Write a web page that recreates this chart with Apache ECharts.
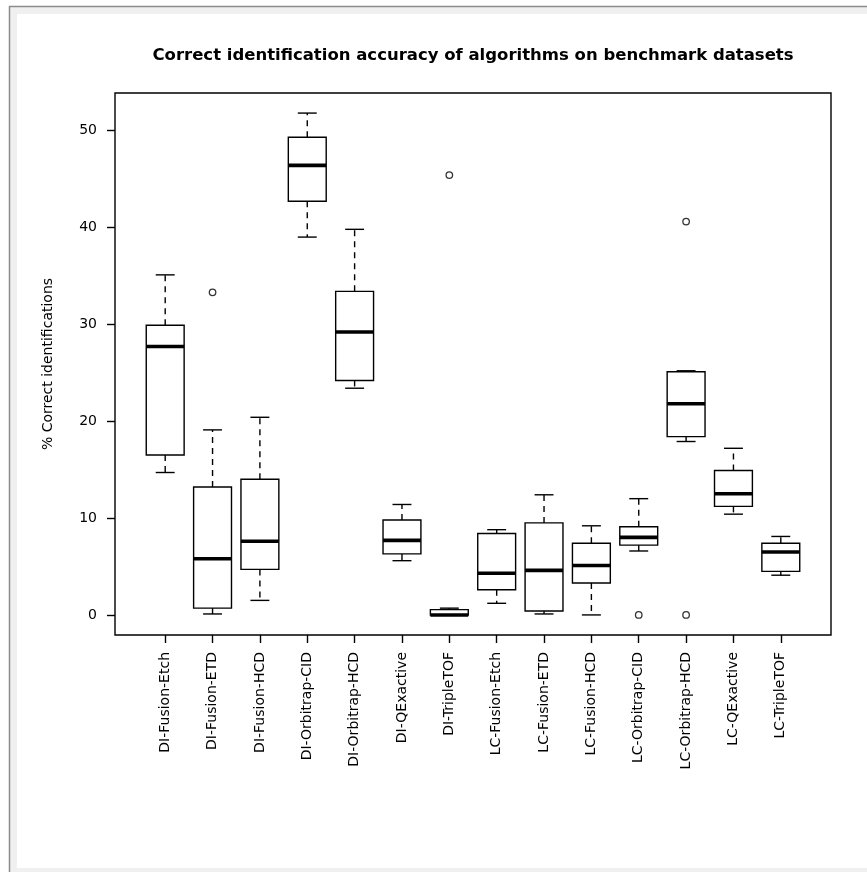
<!DOCTYPE html>
<html>
<head>
<meta charset="utf-8">
<script src="https://cdn.jsdelivr.net/npm/echarts@6/dist/echarts.min.js"></script>
<style>
  html, body { margin: 0; padding: 0; background: #fff; }
  #chart { width: 867px; height: 872px; }
</style>
</head>
<body>
<div id="chart"></div>
<script>
// Benchmark groups (one box per group)
const categories = [
  'DI-Fusion-Etch', 'DI-Fusion-ETD', 'DI-Fusion-HCD', 'DI-Orbitrap-CID',
  'DI-Orbitrap-HCD', 'DI-QExactive', 'DI-TripleTOF', 'LC-Fusion-Etch',
  'LC-Fusion-ETD', 'LC-Fusion-HCD', 'LC-Orbitrap-CID', 'LC-Orbitrap-HCD',
  'LC-QExactive', 'LC-TripleTOF'
];

// Five-number summaries (% correct identifications)
const whiskerLow  = [14.7, 0.1, 1.5, 39.0, 23.4, 5.6, 0.0, 1.2, 0.1, 0.0, 6.6, 17.9, 10.4, 4.1];
const quartile1   = [16.5, 0.7, 4.7, 42.7, 24.2, 6.3, 0.0, 2.6, 0.4, 3.3, 7.2, 18.4, 11.2, 4.5];
const medians     = [27.7, 5.8, 7.6, 46.4, 29.2, 7.7, 0.0, 4.3, 4.6, 5.1, 8.0, 21.8, 12.5, 6.5];
const quartile3   = [29.9, 13.2, 14.0, 49.3, 33.4, 9.8, 0.55, 8.4, 9.5, 7.4, 9.1, 25.1, 14.9, 7.4];
const whiskerHigh = [35.1, 19.1, 20.4, 51.8, 39.8, 11.4, 0.7, 8.8, 12.4, 9.2, 12.0, 25.2, 17.2, 8.1];

// Outlying points: group number (1-based) and value
const outlierGroup = [2, 7, 11, 12, 12];
const outlierValue = [33.3, 45.4, 0.0, 40.6, 0.0];

// Labelled ticks on the value axis
const yTicks = [0, 10, 20, 30, 40, 50];

const FONT = '"DejaVu Sans", "Liberation Sans", Arial, sans-serif';
const INK = '#000';

// Axis ranges padded by 4% on each side of the data
const allVals = whiskerLow.concat(whiskerHigh, outlierValue);
const dMin = Math.min.apply(null, allVals);
const dMax = Math.max.apply(null, allVals);
const yPad = (dMax - dMin) * 0.04;
const xLo = 0.5, xHi = categories.length + 0.5;
const xPad = (xHi - xLo) * 0.04;
const groupPos = categories.map((c, i) => i + 1);

const boxData = categories.map((c, i) => [
  i + 1, whiskerLow[i], quartile1[i], medians[i], quartile3[i], whiskerHigh[i]
]);
const outlierData = outlierGroup.map((g, i) => [g, outlierValue[i]]);

function renderBox(params, api) {
  const x = api.value(0);
  const half = api.size([0.8, 0])[0] / 2;
  const cap = half / 2;
  const lo = api.coord([x, api.value(1)]);
  const q1 = api.coord([x, api.value(2)]);
  const md = api.coord([x, api.value(3)]);
  const q3 = api.coord([x, api.value(4)]);
  const hi = api.coord([x, api.value(5)]);
  const cx = lo[0];
  const thin = { stroke: INK, lineWidth: 1.4 };
  const dashed = { stroke: INK, lineWidth: 1.4, lineDash: [6, 5] };
  return {
    type: 'group',
    children: [
      { type: 'line', shape: { x1: cx, y1: q3[1], x2: cx, y2: hi[1] }, style: dashed },
      { type: 'line', shape: { x1: cx, y1: q1[1], x2: cx, y2: lo[1] }, style: dashed },
      { type: 'line', shape: { x1: cx - cap, y1: hi[1], x2: cx + cap, y2: hi[1] }, style: thin },
      { type: 'line', shape: { x1: cx - cap, y1: lo[1], x2: cx + cap, y2: lo[1] }, style: thin },
      { type: 'rect', shape: { x: cx - half, y: q3[1], width: half * 2, height: q1[1] - q3[1] },
        style: { fill: 'none', stroke: INK, lineWidth: 1.4 } },
      { type: 'line', shape: { x1: cx - half, y1: md[1], x2: cx + half, y2: md[1] },
        style: { stroke: INK, lineWidth: 3.6 } }
    ]
  };
}

const chart = echarts.init(document.getElementById('chart'), null, { renderer: 'canvas' });

chart.setOption({
  animation: false,
  backgroundColor: '#fff',
  graphic: [
    { type: 'rect', z: -10, silent: true, shape: { x: 9, y: 6, width: 858, height: 866 },
      style: { fill: '#f0f0f0' } },
    { type: 'rect', z: -9, silent: true, shape: { x: 17, y: 14, width: 850, height: 854 },
      style: { fill: '#fff' } },
    { type: 'line', z: -8, silent: true, shape: { x1: 9.5, y1: 6, x2: 9.5, y2: 872 },
      style: { stroke: '#8c8c8c', lineWidth: 1.5 } },
    { type: 'line', z: -8, silent: true, shape: { x1: 9, y1: 6.5, x2: 867, y2: 6.5 },
      style: { stroke: '#8c8c8c', lineWidth: 1.5 } },
    { type: 'text', z: 10, silent: true, x: 473, y: 56,
      style: { text: 'Correct identification accuracy of algorithms on benchmark datasets',
        fill: INK, font: 'bold 16.5px ' + FONT, align: 'center', verticalAlign: 'middle' } }
  ],
  grid: {
    left: 115, top: 93, width: 716, height: 542,
    show: true, borderColor: INK, borderWidth: 1.4, backgroundColor: 'transparent'
  },
  xAxis: {
    type: 'value',
    min: xLo - xPad,
    max: xHi + xPad,
    splitLine: { show: false },
    axisLine: { show: false, onZero: false },
    axisTick: { show: true, customValues: groupPos, length: 8, lineStyle: { color: INK, width: 1.4 } },
    axisLabel: {
      customValues: groupPos,
      rotate: 90,
      margin: 17,
      color: INK,
      fontFamily: FONT,
      fontSize: 14,
      formatter: (v) => categories[Math.round(v) - 1] || ''
    }
  },
  yAxis: {
    type: 'value',
    min: dMin - yPad,
    max: dMax + yPad,
    name: '% Correct identifications',
    nameLocation: 'middle',
    nameRotate: 90,
    nameGap: 60,
    nameTextStyle: { color: INK, fontFamily: FONT, fontSize: 14 },
    splitLine: { show: false },
    axisLine: { show: false, onZero: false },
    axisTick: { show: true, customValues: yTicks, length: 8, lineStyle: { color: INK, width: 1.4 } },
    axisLabel: {
      customValues: yTicks,
      margin: 18,
      color: INK,
      fontFamily: FONT,
      fontSize: 14
    }
  },
  series: [
    {
      type: 'custom',
      renderItem: renderBox,
      data: boxData,
      encode: { x: 0, y: [1, 2, 3, 4, 5] },
      clip: false
    },
    {
      type: 'scatter',
      data: outlierData,
      symbol: 'circle',
      symbolSize: 6.5,
      itemStyle: { color: 'rgba(0,0,0,0)', borderColor: INK, borderWidth: 1.3 }
    }
  ]
});
</script>
</body>
</html>
